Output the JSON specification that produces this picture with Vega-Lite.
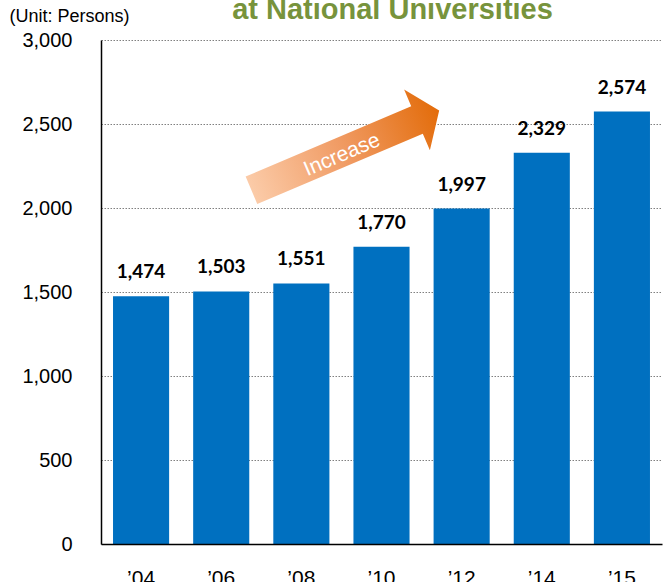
{
  "$schema": "https://vega.github.io/schema/vega-lite/v6.json",
  "width": 561,
  "height": 504,
  "autosize": "none",
  "padding": {"left": 101, "top": 40, "right": 1, "bottom": 38},
  "background": "white",
  "config": {"view": {"stroke": null}, "font": "Liberation Sans"},
  "title": {
    "text": "at National Universities",
    "color": "#77933C",
    "font": "Liberation Sans",
    "fontSize": 29,
    "fontWeight": "bold",
    "anchor": "middle",
    "dx": 11,
    "offset": -18
  },
  "datasets": {
    "bars": [
      {"year": "’04", "persons": 1474},
      {"year": "’06", "persons": 1503},
      {"year": "’08", "persons": 1551},
      {"year": "’10", "persons": 1770},
      {"year": "’12", "persons": 1997},
      {"year": "’14", "persons": 2329},
      {"year": "’15", "persons": 2574}
    ],
    "arrow": [{"x": 3.943, "y": 2524}],
    "note": [{"x": 3.007, "y": 2315, "label": "Increase"}]
  },
  "layer": [
    {
      "data": {"name": "bars"},
      "encoding": {
        "x": {
          "field": "year",
          "type": "ordinal",
          "sort": null,
          "scale": {"paddingInner": 0.3, "paddingOuter": 0.15},
          "axis": {
            "title": null,
            "labelAngle": 0,
            "labelFont": "Liberation Sans",
            "labelFontSize": 21,
            "labelColor": "black",
            "labelPadding": 23,
            "ticks": false,
            "domainColor": "black",
            "domainWidth": 1.5,
            "zindex": 1
          }
        },
        "y": {
          "field": "persons",
          "type": "quantitative",
          "scale": {"domain": [0, 3000], "nice": false},
          "axis": {
            "values": [0, 500, 1000, 1500, 2000, 2500, 3000],
            "format": ",d",
            "labelFont": "Liberation Sans",
            "labelFontSize": 20,
            "labelColor": "black",
            "labelPadding": 29,
            "ticks": false,
            "grid": true,
            "gridColor": "#808080",
            "gridDash": [1.5, 1.5],
            "gridWidth": 1,
            "domainColor": "black",
            "domainWidth": 1.5,
            "title": "(Unit: Persons)",
            "titleAngle": 0,
            "titleX": -92,
            "titleY": -19,
            "titleAlign": "left",
            "titleBaseline": "alphabetic",
            "titleFont": "Liberation Sans",
            "titleFontSize": 18,
            "titleFontWeight": "normal",
            "titleColor": "black"
          }
        }
      },
      "layer": [
        {"mark": {"type": "bar", "color": "#0070C0"}},
        {
          "mark": {
            "type": "text",
            "font": "Lato",
            "fontWeight": "bold",
            "fontSize": 19,
            "color": "black",
            "baseline": "alphabetic",
            "dy": -18
          },
          "encoding": {
            "text": {"field": "persons", "type": "quantitative", "format": ","}
          }
        }
      ]
    },
    {
      "data": {"name": "arrow"},
      "mark": {
        "type": "point",
        "shape": "M -5.45 -0.45 L 0 -0.45 L 0 -1 L 0.73 0 L 0 1 L 0 0.45 L -5.45 0.45 Z",
        "size": 4356,
        "angle": -23,
        "filled": true,
        "opacity": 1,
        "strokeWidth": 0,
        "fill": {
          "gradient": "linear",
          "x1": 0, "y1": 0, "x2": 1, "y2": 0,
          "stops": [
            {"offset": 0, "color": "#FBCBA8"},
            {"offset": 0.5, "color": "#F09A62"},
            {"offset": 1, "color": "#E36C0A"}
          ]
        }
      },
      "encoding": {
        "x": {"field": "x", "type": "quantitative", "scale": {"domain": [0, 7], "nice": false}, "axis": null},
        "y": {"field": "y", "type": "quantitative"}
      }
    },
    {
      "data": {"name": "note"},
      "mark": {
        "type": "text",
        "angle": -23,
        "color": "white",
        "font": "Liberation Sans",
        "fontSize": 21,
        "baseline": "middle",
        "align": "center"
      },
      "encoding": {
        "x": {"field": "x", "type": "quantitative", "scale": {"domain": [0, 7], "nice": false}, "axis": null},
        "y": {"field": "y", "type": "quantitative"},
        "text": {"field": "label"}
      }
    }
  ],
  "resolve": {"scale": {"x": "independent"}}
}
